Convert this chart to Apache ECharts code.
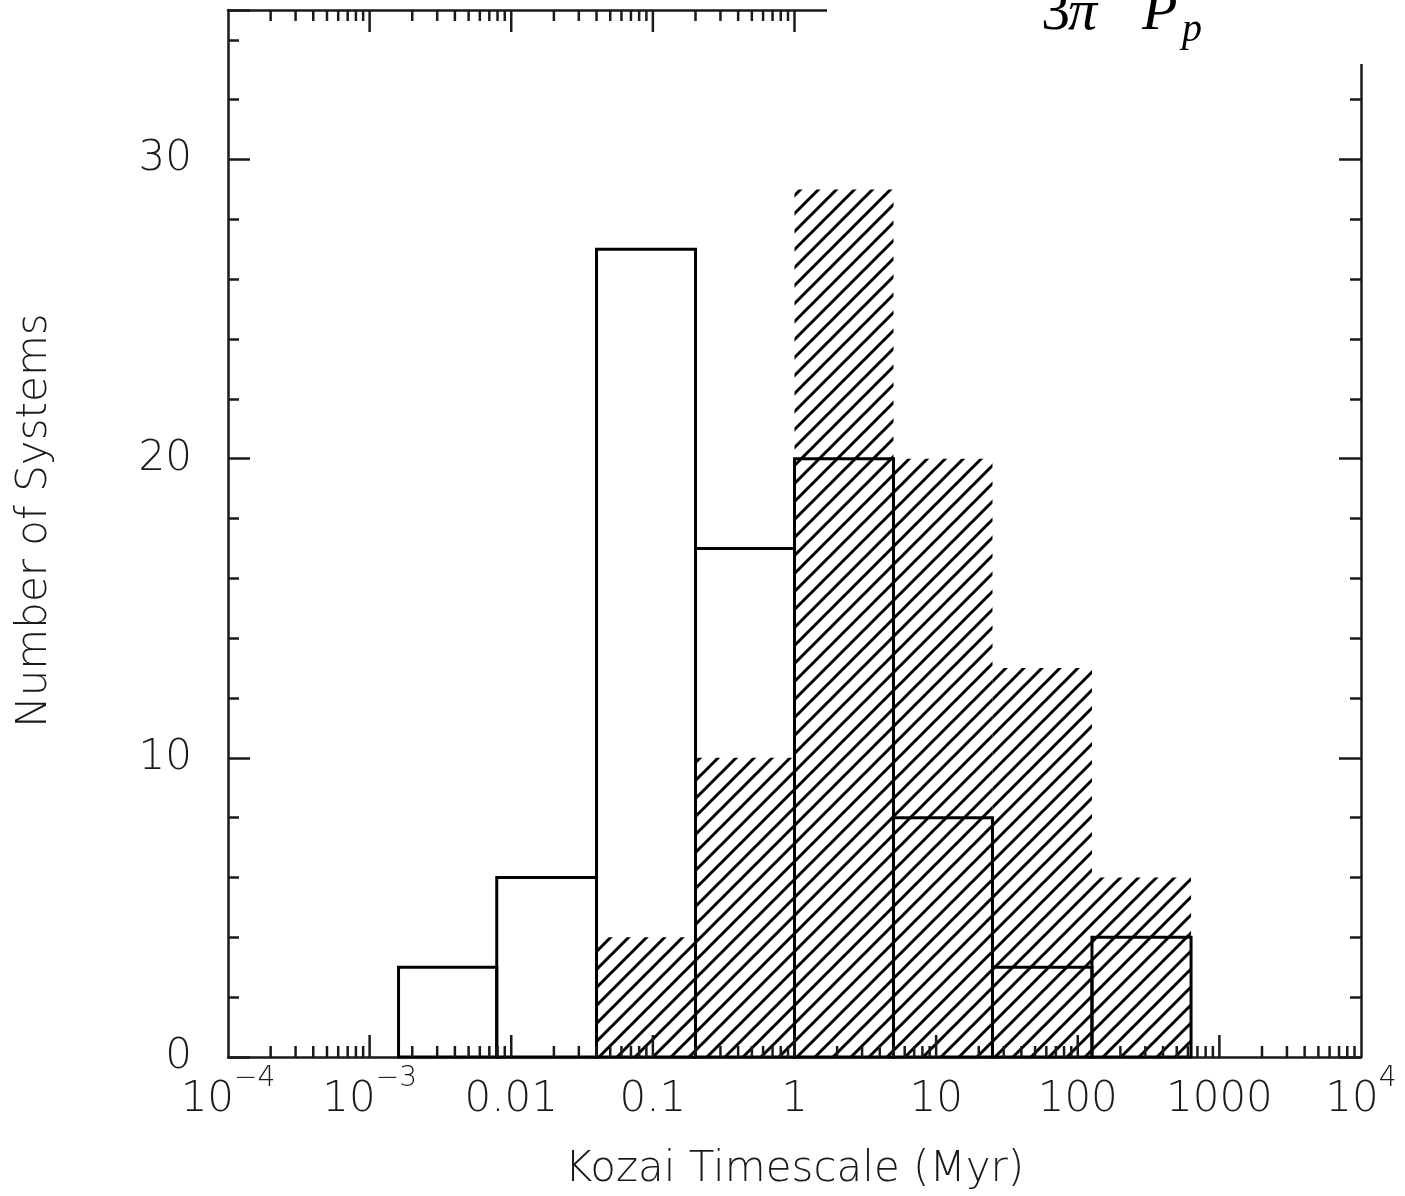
<!DOCTYPE html>
<html><head><meta charset="utf-8">
<script src="https://cdn.jsdelivr.net/npm/echarts@6/dist/echarts.min.js"></script>
<style>html,body{margin:0;padding:0;background:#fff}#c{width:1405px;height:1196px}</style>
</head><body><div id="c"></div>
<script>
// ---- data ----
const binEdges = [0.0016, 0.0079, 0.040, 0.20, 1.0, 5.0, 25, 126, 631];
const openCounts = [3, 6, 27, 17, 20, 8, 3, 4];
const hatchCounts = [0, 0, 4, 10, 29, 20, 13, 6];
const xTickMain = ['10', '10', '0.01', '0.1', '1', '10', '100', '1000', '10'];
const xTickSup = ['−4', '−3', '', '', '', '', '', '', '4'];
const majorDecades = [1e-4, 1e-3, 1e-2, 1e-1, 1, 10, 100, 1000, 1e4];
const minorMantissas = [2, 3, 4, 5, 6, 7, 8, 9];
const yMin = 0, yMax = 35;

const FONT = '"DejaVu Sans", sans-serif';
const INK = '#1a1a1a';

// hatch pattern
const tile = document.createElement('canvas');
const S = 18;
tile.width = S; tile.height = S;
const g = tile.getContext('2d');
g.strokeStyle = '#000'; g.lineWidth = 3; g.lineCap = 'butt';
g.beginPath();
g.moveTo(-2, S + 2); g.lineTo(S + 2, -2);
g.moveTo(-2, 2); g.lineTo(2, -2);
g.moveTo(S - 2, S + 2); g.lineTo(S + 2, S - 2);
g.stroke();

// x tick marks: [value, length]
const xTicks = [];
majorDecades.forEach((d, i) => {
  if (i > 0 && i < majorDecades.length - 1) xTicks.push([d, 22]);
  if (i < majorDecades.length - 1) minorMantissas.forEach(m => xTicks.push([m * d, 11]));
});

function binData(counts) {
  return counts.map((c, i) => [binEdges[i], binEdges[i + 1], c]);
}
function barRender(style) {
  return function (params, api) {
    const y = api.value(2);
    if (!y) return null;
    const p0 = api.coord([api.value(0), 0]);
    const p1 = api.coord([api.value(1), y]);
    return { type: 'rect', shape: { x: p0[0], y: p1[1], width: p1[0] - p0[0], height: p0[1] - p1[1] }, style: style };
  };
}

const axisLineStyle = { color: INK, width: 2.5 };
const xAxisBase = {
  type: 'log', logBase: 10, min: 1e-4, max: 1e4, splitNumber: 8,
  axisLine: { show: true, onZero: false, lineStyle: axisLineStyle },
  axisTick: { show: false },
  splitLine: { show: false }, minorTick: { show: false }, minorSplitLine: { show: false }
};
const yAxisBase = {
  type: 'value', min: yMin, max: yMax, interval: 10,
  axisLine: { show: true, onZero: false, lineStyle: axisLineStyle },
  axisTick: { show: true, inside: true, length: 22, lineStyle: { color: INK, width: 2.5 } },
  minorTick: { show: true, splitNumber: 5, length: 11, lineStyle: { color: INK, width: 2.5 } },
  splitLine: { show: false }
};

const chart = echarts.init(document.getElementById('c'), null, { renderer: 'canvas' });
chart.setOption({
  backgroundColor: '#fff',
  animation: false,
  grid: { left: 228, right: 44, top: 10, bottom: 139 },
  xAxis: [
    Object.assign({}, xAxisBase, {
      position: 'bottom',
      axisLabel: {
        margin: 8, color: INK,
        formatter: function (v) {
          const i = Math.round(Math.log10(v)) + 4;
          return '{b|' + xTickMain[i] + '}' + (xTickSup[i] ? '{s|' + xTickSup[i] + '}' : '');
        },
        rich: {
          b: { fontSize: 42, fontFamily: FONT, fontWeight: 200, color: INK, padding: [14, 0, 0, 0], verticalAlign: 'bottom' },
          s: { fontSize: 28, fontFamily: FONT, fontWeight: 200, color: INK, verticalAlign: 'top' }
        }
      },
      name: 'Kozai Timescale (Myr)', nameLocation: 'middle', nameGap: 92,
      nameTextStyle: { fontSize: 42, fontFamily: FONT, fontWeight: 200, color: INK }
    }),
    Object.assign({}, xAxisBase, { position: 'top', axisLabel: { show: false } })
  ],
  yAxis: [
    Object.assign({}, yAxisBase, {
      position: 'left',
      axisLabel: { margin: 36, fontSize: 42, fontFamily: FONT, fontWeight: 200, color: INK, showMaxLabel: false },
      name: 'Number of Systems', nameLocation: 'middle', nameGap: 172, nameRotate: 90,
      nameTextStyle: { fontSize: 42, fontFamily: FONT, fontWeight: 200, color: INK, padding: [0, 0, 0, 26] }
    }),
    Object.assign({}, yAxisBase, { position: 'right', axisLabel: { show: false } })
  ],
  series: [
    {
      type: 'custom', name: 'hatched', z: 2,
      xAxisIndex: 0, yAxisIndex: 0,
      encode: { x: [0, 1], y: 2 },
      data: binData(hatchCounts),
      renderItem: barRender({ fill: { image: tile, repeat: 'repeat' }, stroke: null })
    },
    {
      type: 'custom', name: 'open', z: 3,
      xAxisIndex: 0, yAxisIndex: 0,
      encode: { x: [0, 1], y: 2 },
      data: binData(openCounts),
      renderItem: barRender({ fill: 'none', stroke: '#000', lineWidth: 3 })
    },
    {
      type: 'custom', name: 'xTicks', z: 4, silent: true,
      xAxisIndex: 0, yAxisIndex: 0,
      encode: { x: 0 },
      data: xTicks,
      renderItem: function (params, api) {
        const len = api.value(1);
        const pb = api.coord([api.value(0), yMin]);
        const pt = api.coord([api.value(0), yMax]);
        const st = { stroke: INK, lineWidth: 2.5 };
        return { type: 'group', children: [
          { type: 'line', shape: { x1: pb[0], y1: pb[1], x2: pb[0], y2: pb[1] - len }, style: st },
          { type: 'line', shape: { x1: pt[0], y1: pt[1], x2: pt[0], y2: pt[1] + len }, style: st }
        ] };
      }
    }
  ],
  graphic: [
    { type: 'rect', z: 100, x: 827, y: 0, shape: { width: 578, height: 64 }, style: { fill: '#fff' } },
    { type: 'text', z: 101, x: 1041, y: 14, style: { text: '3', font: '58px "Liberation Serif"', fill: '#000', verticalAlign: 'middle' } },
    { type: 'text', z: 101, x: 1068, y: 14, style: { text: 'π', font: 'italic 58px "Liberation Serif"', fill: '#000', verticalAlign: 'middle' } },
    { type: 'text', z: 101, x: 1142, y: 14, style: { text: 'P', font: 'italic 58px "Liberation Serif"', fill: '#000', verticalAlign: 'middle' } },
    { type: 'text', z: 101, x: 1182, y: 30, style: { text: 'p', font: 'italic 40px "Liberation Serif"', fill: '#000', verticalAlign: 'middle' } }
  ]
});
</script>
</body></html>
